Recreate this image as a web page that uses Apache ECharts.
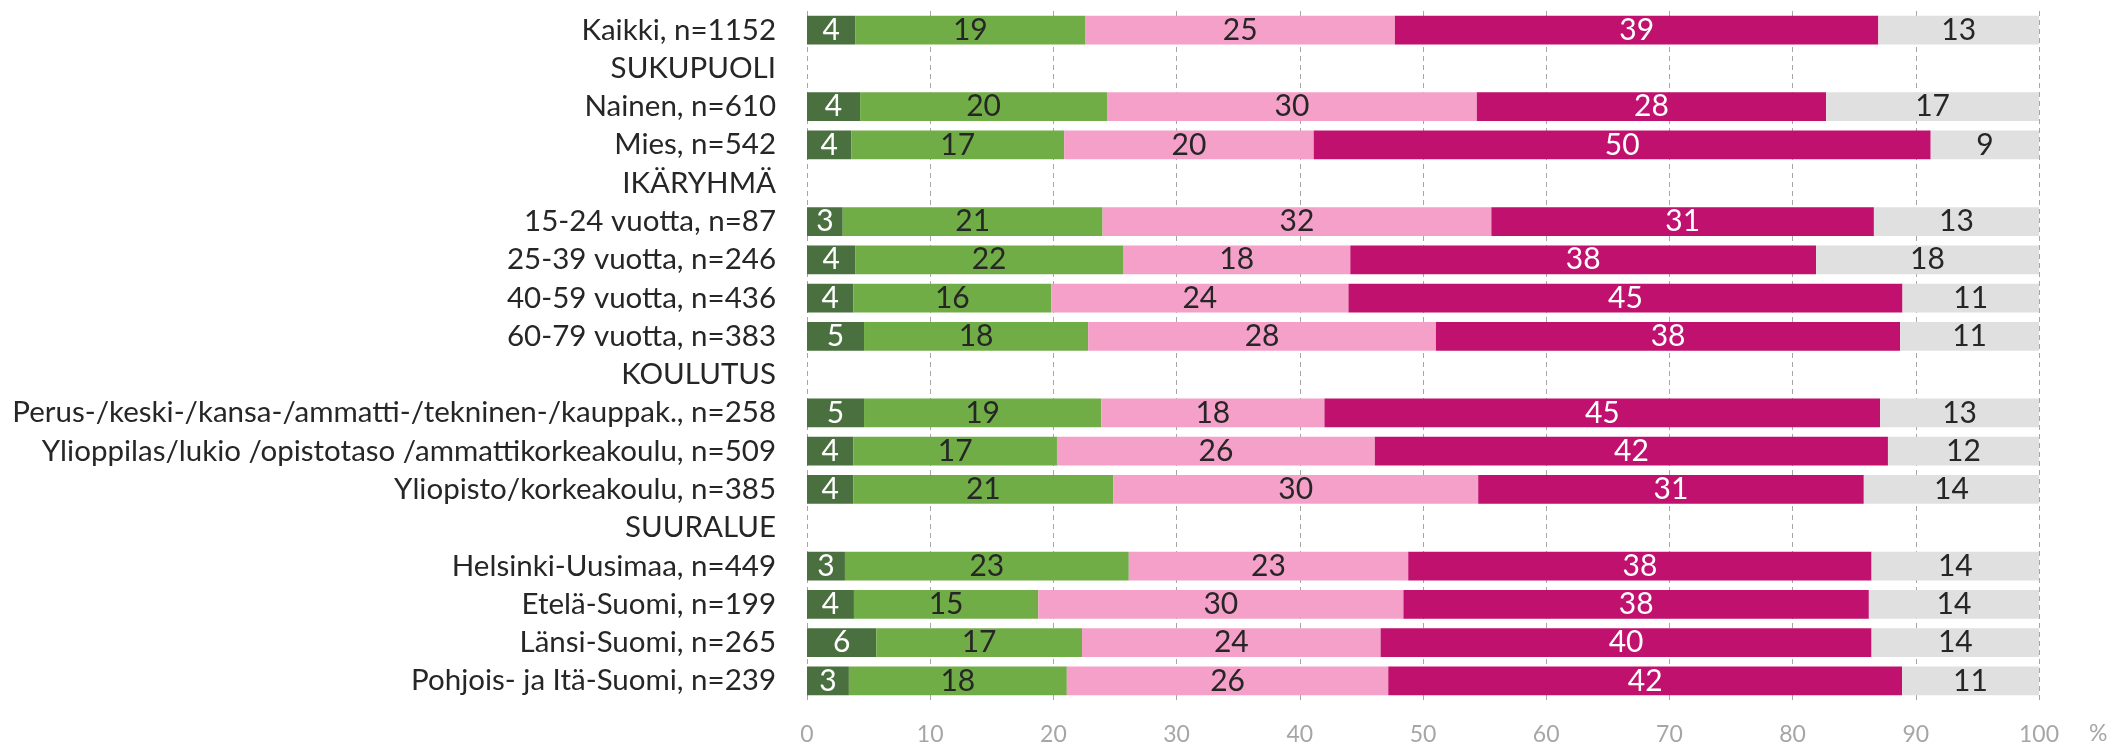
<!DOCTYPE html>
<html>
<head>
<meta charset="utf-8">
<script src="https://cdn.jsdelivr.net/npm/echarts@6/dist/echarts.min.js"></script>
<style>
html,body{margin:0;padding:0;background:#fff;}
#chart{width:2113px;height:745px;}
</style>
</head>
<body>
<div id="chart"></div>
<script>
const categories = ['Kaikki, n=1152','SUKUPUOLI','Nainen, n=610','Mies, n=542','IKÄRYHMÄ','15-24 vuotta, n=87','25-39 vuotta, n=246','40-59 vuotta, n=436','60-79 vuotta, n=383','KOULUTUS','Perus-/keski-/kansa-/ammatti-/tekninen-/kauppak., n=258','Ylioppilas/lukio /opistotaso /ammattikorkeakoulu, n=509','Yliopisto/korkeakoulu, n=385','SUURALUE','Helsinki-Uusimaa, n=449','Etelä-Suomi, n=199','Länsi-Suomi, n=265','Pohjois- ja Itä-Suomi, n=239'];

const seriesNames = ['s1','s2','s3','s4','s5'];
const darkGreenValues = [3.91, null, 4.31, 3.59, null, 2.90, 3.91, 3.77, 4.63, null, 4.63, 3.77, 3.77, null, 3.08, 3.81, 5.62, 3.40];
const greenValues     = [18.70, null, 20.04, 17.28, null, 21.09, 21.74, 16.05, 18.19, null, 19.25, 16.52, 21.08, null, 23.04, 14.96, 16.70, 17.69];
const pinkValues      = [25.11, null, 30.02, 20.26, null, 31.56, 18.45, 24.13, 28.23, null, 18.12, 25.80, 29.63, null, 22.68, 29.64, 24.24, 26.09];
const magentaValues   = [39.24, null, 28.35, 50.08, null, 31.05, 37.80, 44.97, 37.68, null, 45.11, 41.65, 31.30, null, 37.61, 37.78, 39.85, 41.70];
const grayValues      = [13.04, null, 17.28, 8.79, null, 13.40, 18.10, 11.08, 11.27, null, 12.89, 12.26, 14.22, null, 13.59, 13.81, 13.59, 11.12];

const xTicks = [0,10,20,30,40,50,60,70,80,90,100];
const unitLabel = '%';

const FONT = 'Lato';
const catSize = 29.5;
const valSize = 30;

const chart = echarts.init(document.getElementById('chart'), null, {renderer:'canvas'});

const colors = ['#49703E','#70AD47','#F4A0C8','#C0116E','#E0E0E0'];
const labelColors = ['#FFFFFF','#262626','#262626','#FFFFFF','#262626'];
const valueArrays = [darkGreenValues, greenValues, pinkValues, magentaValues, grayValues];

const series = valueArrays.map((vals, i) => ({
  name: seriesNames[i],
  type: 'bar',
  stack: 'total',
  barCategoryGap: '25%',
  data: vals,
  itemStyle: {color: colors[i]},
  label: {
    show: true,
    position: 'inside',
    color: labelColors[i],
    fontFamily: FONT,
    fontSize: valSize,
    formatter: p => p.value == null ? '' : String(Math.round(p.value))
  },
  emphasis: {disabled: true},
  silent: true
}));

chart.setOption({
  animation: false,
  backgroundColor: '#ffffff',
  grid: {left: 807, right: 74, top: 11, bottom: 45, containLabel: false, outerBoundsMode: 'none'},
  xAxis: {
    type: 'value',
    min: xTicks[0], max: xTicks[xTicks.length-1], interval: xTicks[1]-xTicks[0],
    axisLine: {show: false},
    axisTick: {show: false},
    splitLine: {show: true, lineStyle: {color: '#A6A6A6', type: [5,4], width: 1}},
    axisLabel: {color: '#A6A6A6', fontFamily: FONT, fontSize: 23, margin: 23}
  },
  yAxis: {
    type: 'category',
    data: categories,
    inverse: true,
    axisLine: {show: false},
    axisTick: {show: false},
    axisLabel: {color: '#262626', fontFamily: FONT, fontSize: catSize, margin: 31, interval: 0}
  },
  graphic: [{
    type: 'text',
    left: 2089,
    top: 722,
    style: {text: unitLabel, fill: '#A6A6A6', font: '23px "' + FONT + '"'}
  }],
  series: series
});
</script>
</body>
</html>
